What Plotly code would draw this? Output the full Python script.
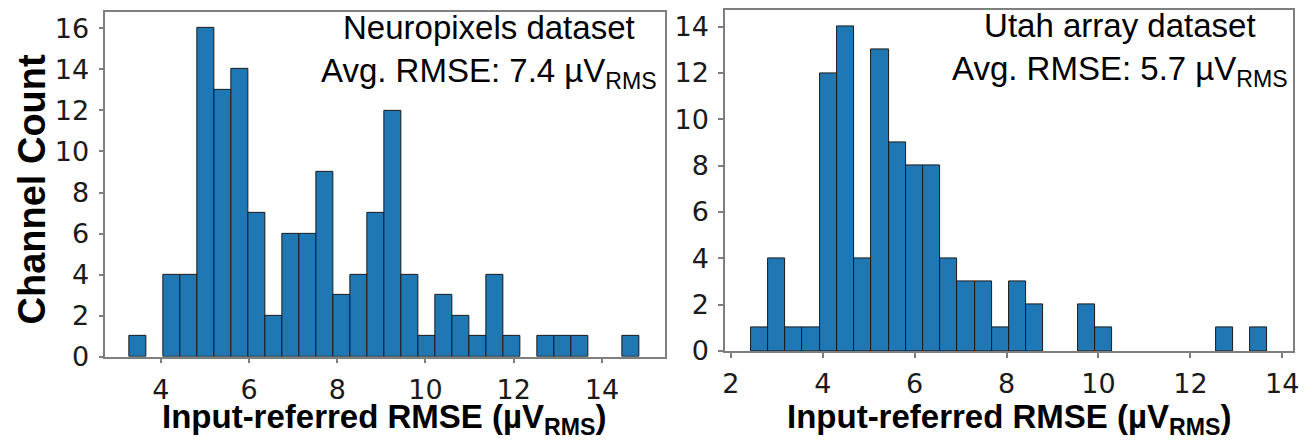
import numpy as np
import plotly.graph_objects as go

# ---------------- data ----------------
neuro_counts = [1, 0, 4, 4, 16, 13, 14, 7, 2, 6, 6, 9, 3, 4, 7, 12, 4, 1, 3, 2,
                1, 4, 1, 0, 1, 1, 1, 0, 0, 1]
neuro_bin_lo = 3.29
neuro_bin_hi = 14.84

utah_counts = [1, 4, 1, 1, 12, 14, 4, 13, 9, 8, 8, 4, 3, 3, 1, 3, 2, 0, 0, 2,
               1, 0, 0, 0, 0, 0, 0, 1, 0, 1]
utah_bin_lo = 2.437
utah_bin_hi = 13.675

neuro_xticks = [4, 6, 8, 10, 12, 14]
neuro_yticks = [0, 2, 4, 6, 8, 10, 12, 14, 16]
utah_xticks = [2, 4, 6, 8, 10, 12, 14]
utah_yticks = [0, 2, 4, 6, 8, 10, 12, 14]

neuro_label = "Neuropixels dataset<br>Avg. RMSE: 7.4 µV<sub>RMS</sub>"
utah_label = "Utah array dataset<br>Avg. RMSE: 5.7 µV<sub>RMS</sub>"
x_title = "<b>Input-referred RMSE (µV<sub>RMS</sub>)</b>"
y_title = "<b>Channel Count</b>"

# ---------------- figure ----------------
W, H = 1316, 442
BAR = "#1f77b4"
EDGE = "#1b1b1b"
SPINE = "#7f7f7f"
TICKFONT = dict(family="DejaVu Sans", size=27, color="#1a1a1a")
TXT = "Liberation Sans, Arial, sans-serif"


def bars(counts, lo, hi, xa, ya):
    edges = np.linspace(lo, hi, len(counts) + 1)
    centers = (edges[:-1] + edges[1:]) / 2
    widths = np.diff(edges)
    y = [c if c > 0 else None for c in counts]
    return go.Bar(x=centers, y=y, width=widths, xaxis=xa, yaxis=ya,
                  marker=dict(color=BAR, line=dict(color=EDGE, width=1)),
                  hoverinfo="x+y")


fig = go.Figure()
fig.add_trace(bars(neuro_counts, neuro_bin_lo, neuro_bin_hi, "x", "y"))
fig.add_trace(bars(utah_counts, utah_bin_lo, utah_bin_hi, "x2", "y2"))

axis_common = dict(showgrid=False, zeroline=False, showline=True, mirror=True,
                   linecolor=SPINE, linewidth=1.5, ticks="outside", ticklen=5,
                   tickwidth=1.5, tickcolor=SPINE, tickfont=TICKFONT)

fig.update_layout(
    width=W, height=H,
    margin=dict(l=0, r=0, t=0, b=0),
    paper_bgcolor="white", plot_bgcolor="white",
    showlegend=False, bargap=0,
    xaxis=dict(domain=[95 / W, 658 / W], range=[2.74, 15.42], tickvals=neuro_xticks,
               anchor="y", ticklabelstandoff=3, **axis_common),
    yaxis=dict(domain=[(H - 361) / H, (H - 4) / H], range=[0, 16.8], tickvals=neuro_yticks,
               anchor="x", ticklabelstandoff=4, **axis_common),
    xaxis2=dict(domain=[719 / W, 1291 / W], range=[1.875, 14.237], tickvals=utah_xticks,
                anchor="y2", ticklabelstandoff=3, **axis_common),
    yaxis2=dict(domain=[(H - 355) / H, (H - 2.5) / H], range=[0, 14.7], tickvals=utah_yticks,
                anchor="x2", ticklabelstandoff=4, **axis_common),
)

ann_font = dict(family=TXT, size=33, color="black")
title_font = dict(family=TXT, size=33, color="black")
fig.add_annotation(text=neuro_label, x=481 / W, y=1 - 45 / H, xref="paper", yref="paper",
                   xanchor="center", yanchor="middle", showarrow=False, font=ann_font,
                   align="center")
fig.add_annotation(text=utah_label, x=1117 / W, y=1 - 43 / H, xref="paper", yref="paper",
                   xanchor="center", yanchor="middle", showarrow=False, font=ann_font,
                   align="center")
fig.add_annotation(text=x_title, x=376 / W, y=1 - 425 / H, xref="paper", yref="paper",
                   xanchor="center", yanchor="middle", showarrow=False, font=title_font)
fig.add_annotation(text=x_title, x=1005 / W, y=1 - 425 / H, xref="paper", yref="paper",
                   xanchor="center", yanchor="middle", showarrow=False, font=title_font)
fig.add_annotation(text=y_title, x=21 / W, y=1 - 187 / H, xref="paper", yref="paper",
                   xanchor="center", yanchor="middle", showarrow=False, textangle=-90,
                   font=dict(family=TXT, size=38, color="black"))

fig.write_html("out.html")
